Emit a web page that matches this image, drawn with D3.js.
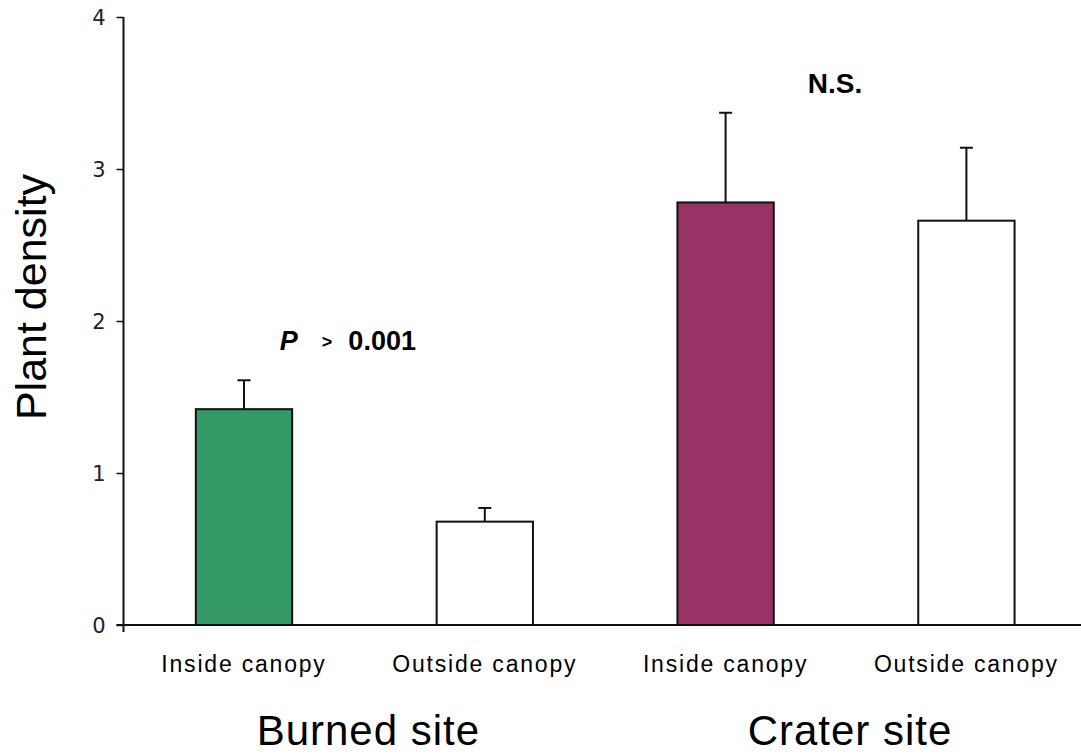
<!DOCTYPE html>
<meta charset="utf-8">
<style>
  body { margin: 0; background: #fff; }
  svg text { font-family: Arial, "Liberation Sans", sans-serif; fill: #000; }
</style>
<body>
<svg width="1081" height="755"></svg>

<script src="https://cdn.jsdelivr.net/npm/d3@7"></script>
<script>

// data
var categories = ["Burned inside", "Burned outside", "Crater inside", "Crater outside"];
var tickLabels = ["Inside canopy", "Outside canopy", "Inside canopy", "Outside canopy"];
var means = [1.42, 0.68, 2.78, 2.66];
var errTops = [1.61, 0.77, 3.37, 3.14];
var fills = ["#339966", "#ffffff", "#993366", "#ffffff"];
var sites = ["Burned site", "Crater site"];
var yTicks = [0, 1, 2, 3, 4];

var svg = d3.select("svg");

var x = d3.scaleBand()
    .domain(categories)
    .range([123.6, 1086.8])
    .paddingInner(0.6)
    .paddingOuter(0.3);

var y = d3.scaleLinear()
    .domain([0, 4])
    .range([625, 17]);

var x0 = 123.5;
function mid(d) { return x(d) + x.bandwidth() / 2; }

// bars
svg.append("g").selectAll("rect")
    .data(categories)
    .enter().append("rect")
    .attr("x", function(d) { return x(d); })
    .attr("y", function(d, i) { return y(means[i]); })
    .attr("width", x.bandwidth())
    .attr("height", function(d, i) { return y(0) - y(means[i]); })
    .attr("fill", function(d, i) { return fills[i]; })
    .attr("stroke", "#111")
    .attr("stroke-width", 2);

// error bars (upper only)
var err = svg.append("g").attr("stroke", "#111").attr("stroke-width", 2);
categories.forEach(function(d, i) {
    var cx = mid(d);
    err.append("line")
	.attr("x1", cx).attr("x2", cx)
	.attr("y1", y(means[i])).attr("y2", y(errTops[i]));
    err.append("line")
	.attr("x1", cx - 6.5).attr("x2", cx + 6.5)
	.attr("y1", y(errTops[i])).attr("y2", y(errTops[i]));
});

// y axis
var yAxis = svg.append("g")
    .attr("transform", "translate(" + x0 + ",0)")
    .call(d3.axisLeft(y).tickValues(yTicks).tickFormat(d3.format("d")).tickSize(7).tickPadding(11));
yAxis.select(".domain").attr("d", "M0," + y(4) + "V" + (y(0) + 7))
    .attr("stroke", "#111").attr("stroke-width", 2);
yAxis.selectAll(".tick line").attr("stroke", "#111").attr("stroke-width", 1.5);
yAxis.selectAll(".tick text")
    .attr("dy", "0.36em")
    .style("font-family", "'DejaVu Sans', sans-serif")
    .style("font-size", "21px")
    .style("fill", "#222");

// x axis line
svg.append("line")
    .attr("x1", x0 - 7).attr("x2", 1081)
    .attr("y1", y(0)).attr("y2", y(0))
    .attr("stroke", "#111").attr("stroke-width", 2);

// category labels
svg.append("g").selectAll("text")
    .data(categories)
    .enter().append("text")
    .attr("x", mid)
    .attr("y", 672)
    .attr("text-anchor", "middle")
    .style("font-size", "23px")
    .style("letter-spacing", "1.8px")
    .text(function(d, i) { return tickLabels[i]; });

// site labels
sites.forEach(function(s, k) {
    svg.append("text")
	.attr("x", (mid(categories[2 * k]) + mid(categories[2 * k + 1])) / 2 + 4)
	.attr("y", 745)
	.attr("text-anchor", "middle")
	.style("font-size", "42px")
	.style("letter-spacing", "1px")
	.text(s);
});

// y title
svg.append("text")
    .attr("transform", "translate(46,297) rotate(-90)")
    .attr("text-anchor", "middle")
    .style("font-size", "43px")
    .text("Plant density");

// annotations
var ann = svg.append("text")
    .attr("x", x(categories[0]) + 84)
    .attr("y", 350)
    .style("font-size", "27px")
    .style("font-weight", "bold");
ann.append("tspan").style("font-style", "italic").text("P");
ann.append("tspan").attr("dx", 24).attr("dy", -2).style("font-size", "18px").text(">");
ann.append("tspan").attr("dx", 16).attr("dy", 2).text("0.001");

svg.append("text")
    .attr("x", (mid(categories[2]) + mid(categories[3])) / 2 - 11)
    .attr("y", 93)
    .attr("text-anchor", "middle")
    .style("font-size", "28px")
    .style("font-weight", "bold")
    .text("N.S.");

</script>
</body>
